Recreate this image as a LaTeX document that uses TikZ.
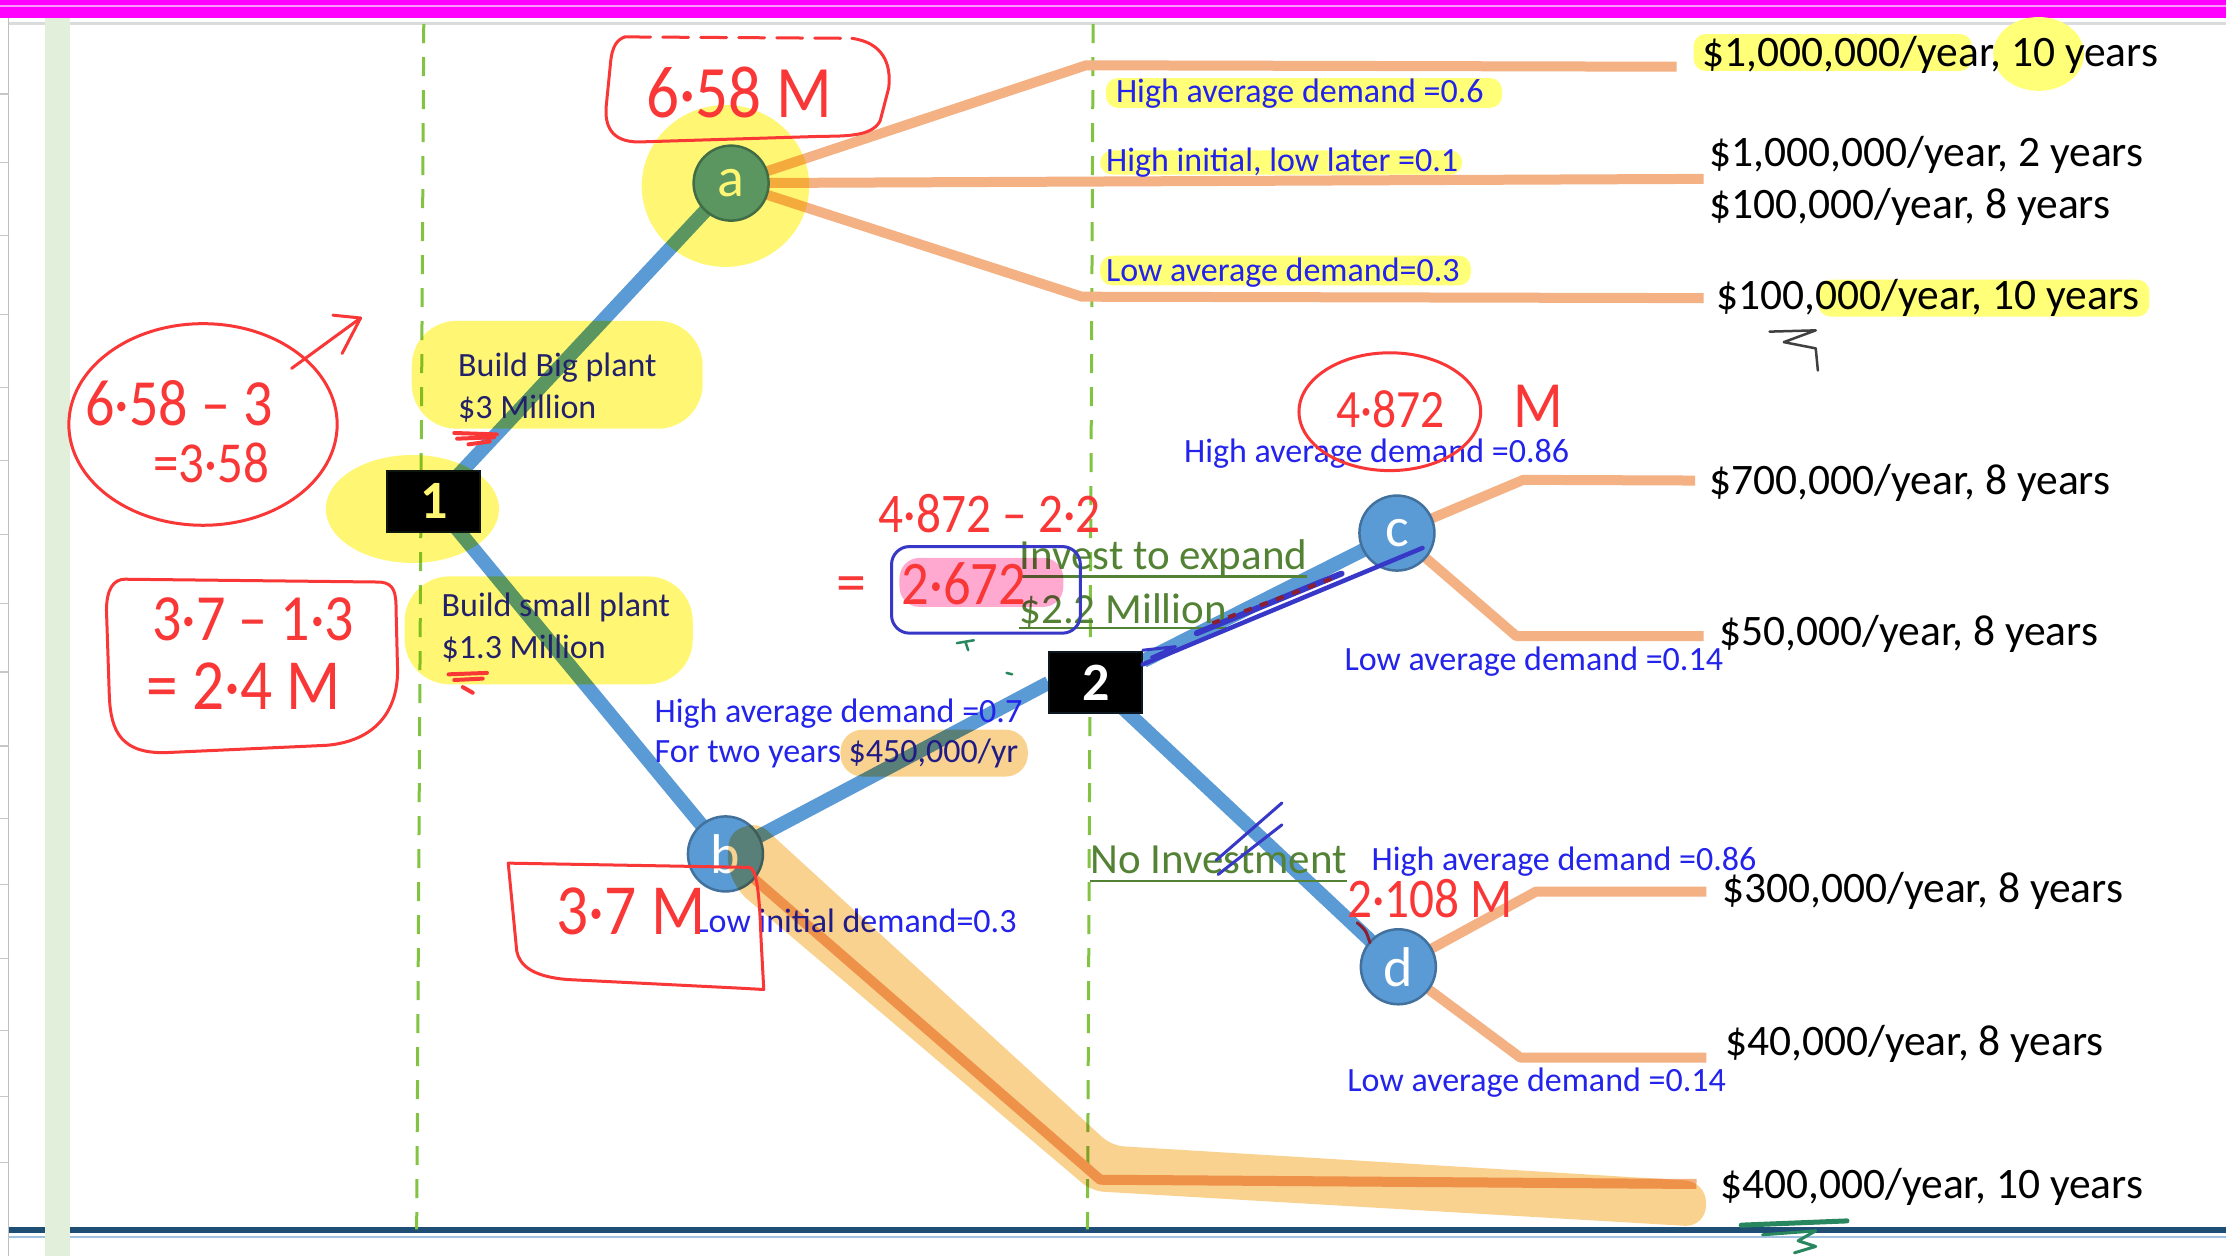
\documentclass[tikz,border=0pt]{standalone}
\usepackage{fontspec}
\setmainfont{Carlito}
\pgfdeclarelayer{back}
\pgfdeclarelayer{edges}
\pgfsetlayers{back,edges,main}
\definecolor{nodeblue}{RGB}{91,155,213}
\definecolor{nodeedge}{RGB}{65,113,156}
\definecolor{branchc}{RGB}{244,177,131}
\definecolor{lblue}{RGB}{35,35,235}
\definecolor{lgreen}{RGB}{84,130,53}
\definecolor{dashgreen}{RGB}{130,195,65}
\definecolor{pen}{RGB}{250,55,55}
\definecolor{bpen}{RGB}{55,55,200}
\definecolor{hlyellow}{RGB}{255,255,120}
\definecolor{mag}{RGB}{255,0,255}
\definecolor{magline}{RGB}{255,150,255}
\definecolor{barteal}{RGB}{30,78,115}
\definecolor{lightbar}{RGB}{160,195,225}
\definecolor{greenbar}{RGB}{226,239,218}
\definecolor{hlorange}{RGB}{245,166,35}
\definecolor{hlpink}{RGB}{255,100,170}
\definecolor{gpen}{RGB}{40,135,95}
\definecolor{mpen}{RGB}{140,30,50}
\newcommand\fsz[1]{\fontsize{#1}{#1}\selectfont}
\newcommand\narrowtxt[1]{\scalebox{0.88}[1]{#1}}
\begin{document}
\begin{tikzpicture}[x=1.4196pt,y=-1.4196pt,
  chance/.style={circle,fill=nodeblue,draw=nodeedge,line width=2.5pt,minimum size=75pt,inner sep=0pt,text=white,font=\fsz{56}},
  decision/.style={fill=black,draw=black!80!nodeedge,line width=2pt,minimum width=93pt,minimum height=61pt,inner sep=0pt,text=white,font=\bfseries\fsz{54}},
  blueedge/.style={draw=nodeblue,line width=14pt},
  branchline/.style={draw=branchc,line width=10pt,line join=round},
  probtext/.style={anchor=base west,inner sep=0pt,text=lblue,font=\fsz{34}},
  valtext/.style={anchor=base west,inner sep=0pt,text=black,font=\fsz{43.5}},
  acttext/.style={anchor=base west,inner sep=0pt,text=lgreen,font=\fsz{43}},
  handtext/.style={anchor=base west,inner sep=0pt,text=pen},
  pencil/.style={draw=pen,line width=3pt,line cap=round,line join=round},
  bpencil/.style={draw=bpen,line width=3pt,line cap=round,line join=round},
  labelhl/.style={fill=hlyellow,rounded corners=12pt},
  penhl/.style={fill=yellow,fill opacity=0.55,blend mode=multiply},
  penorange/.style={fill=hlorange,fill opacity=0.5,blend mode=multiply},
  penpink/.style={fill=hlpink,fill opacity=0.55,blend mode=multiply},
  uline/.style={draw=lgreen,line width=2.5pt}
]
\useasboundingbox (0,0) rectangle (1568,885);
\begin{pgfonlayer}{back}
\fill[white] (0,0) rectangle (1568,885);
\draw[black!14,line width=3pt] (6,16.6) -- (1568,16.6);
\draw[black!25,line width=1.6pt] (6,0) -- (6,885);
\foreach \yy in {66.3,114.3,165.9,221.5,273.1,324.5,376.6,425,473.4,525.6,576.4,622.9,675.1,725.9,772.5,819}
  \draw[black!22,line width=1.4pt] (0,\yy) -- (6,\yy);
\fill[barteal] (6,864) rectangle (1568,868.6);
\draw[lightbar,line width=1.5pt] (6,871.3) -- (1568,871.3);
\fill[greenbar] (31.5,0) rectangle (49.5,885);
\fill[mag] (0,0) rectangle (1568,12.7);
\draw[magline,line width=1.2pt] (0,4.2) -- (1568,4.2);
\draw[dashgreen,line width=3pt,dash pattern=on 19pt off 14pt] (298.5,17) -- (293.5,866);
\draw[dashgreen,line width=3pt,dash pattern=on 19pt off 14pt] (770,17) -- (766,866);
\fill[labelhl] (779,55) rectangle (1058,76);
\fill[labelhl] (775,106) rectangle (1030,123);
\fill[labelhl] (775,180) rectangle (1036,201);
\fill[labelhl] (1193,24) rectangle (1389,50);
\fill[hlyellow] (1436,38) ellipse [x radius=32,y radius=26];
\fill[labelhl] (1281,197) rectangle (1514,223);
\end{pgfonlayer}

% nodes
\node[decision] (n1) at (305.7,353) {1};
\node[decision] (n2) at (772,481) {2};
\node[chance] (a) at (515,129) {a};
\node[chance] (b) at (511,601.5) {b};
\node[chance] (c) at (984,375.5) {c};
\node[chance] (d) at (985,681) {d};

% branch corner / end points
\coordinate (a1) at (765,46);   \coordinate (a1e) at (1181,47);
\coordinate (a2e) at (1200,126);
\coordinate (a3) at (762,209);  \coordinate (a3e) at (1200,210);
\coordinate (c1) at (1073,338); \coordinate (c1e) at (1194,338.5);
\coordinate (c2) at (1068,448); \coordinate (c2e) at (1200,448);
\coordinate (d1) at (1082,628); \coordinate (d1e) at (1202,628);
\coordinate (d2) at (1071,745); \coordinate (d2e) at (1202,745);
\coordinate (b1) at (775,831);  \coordinate (b1e) at (1195,834);

\begin{pgfonlayer}{edges}
\draw[branchline] (a.center) -- (a1) -- (a1e);
\draw[branchline] (a.center) -- (a2e);
\draw[branchline] (a.center) -- (a3) -- (a3e);
\draw[branchline] (c.center) -- (c1) -- (c1e);
\draw[branchline] (c.center) -- (c2) -- (c2e);
\draw[branchline] (d.center) -- (d1) -- (d1e);
\draw[branchline] (d.center) -- (d2) -- (d2e);
\draw[branchline] (b.center) -- (b1) -- (b1e);
\draw[blueedge] (n1.center) -- (a.center);
\draw[blueedge] (n1.center) -- (b.center);
\draw[blueedge] (b.center) -- (n2.west);
\draw[blueedge] ([yshift=22pt]n2.east) -- (c.center);
\draw[blueedge] (n2.center) -- (d.center);
\end{pgfonlayer}

% probability labels
\node[probtext] (p1) at (786,72) {High average demand =0.6};
\node[probtext] (p2) at (779,121) {High initial, low later =0.1};
\node[probtext] (p3) at (779,198.3) {Low average demand=0.3};
\node[probtext] (p4) at (834,326) {High average demand =0.86};
\node[probtext] (p5) at (947,472) {Low average demand =0.14};
\node[probtext] (p6) at (461,508.6) {High average demand =0.7};
\node[probtext] (p7) at (461,537) {For two years \$450,000/yr};
\node[probtext] (p8) at (489,656.5) {Low initial demand=0.3};
\node[probtext] (p9) at (966,613) {High average demand =0.86};
\node[probtext] (p10) at (949,769) {Low average demand =0.14};
\node[probtext] (bb1) at (322.6,265) {Build Big plant};
\node[probtext] (bb2) at (322.6,295) {\$3 Million};
\node[probtext] (bs1) at (311,434.6) {Build small plant};
\node[probtext] (bs2) at (311,464) {\$1.3 Million};

% action labels
\node[acttext] (inv) at (718,401.5) {Invest to expand};
\node[acttext] (inv2) at (718,439) {\$2.2 Million};
\node[acttext] (noinv) at (768,615) {No Investment};
\draw[uline] ([yshift=-6.4pt]inv.base west) -- ([yshift=-6.4pt]inv.base east);
\draw[uline] ([yshift=-5pt]inv2.base west) -- ([yshift=-5pt]inv2.base east);
\draw[uline] ([yshift=-8pt]noinv.base west) -- ([yshift=-8pt]noinv.base east);

% payoff values
\node[valtext] (v1) at (1199,46.5) {\$1,000,000/year, 10 years};
\node[valtext] (v2) at (1204,117) {\$1,000,000/year, 2 years};
\node[valtext] (v3) at (1204,154) {\$100,000/year, 8 years};
\node[valtext] (v4) at (1209,218) {\$100,000/year, 10 years};
\node[valtext] (v5) at (1204,348.5) {\$700,000/year, 8 years};
\node[valtext] (v6) at (1211,455) {\$50,000/year, 8 years};
\node[valtext] (v7) at (1213,635.5) {\$300,000/year, 8 years};
\node[valtext] (v8) at (1215,743.7) {\$40,000/year, 8 years};
\node[valtext] (v9) at (1211.6,844) {\$400,000/year, 10 years};

% highlighter pen (multiply)
\fill[penhl] (511,131) ellipse [x radius=59,y radius=57];
\fill[penhl] (290.5,358.5) ellipse [x radius=61,y radius=38];
\fill[penhl,rounded corners=45pt] (290,226) rectangle (495,302);
\fill[penhl,rounded corners=45pt] (285,406) rectangle (488,482);
\fill[penorange,rounded corners=22pt] (592,514) rectangle (724,547);
\fill[penorange,rounded corners=12pt] (514,586) -- (534,579) -- (548,592) -- (783,807) -- (1196,832) -- (1204,848) -- (1196,864) -- (769,839) -- (520,628) -- (512,610) -- cycle;
\fill[penpink,rounded corners=20pt] (633.6,393) rectangle (749,427.5);

% handwritten red notes
\draw[pencil,dash pattern=on 26pt off 12pt] (440,26) -- (600,27);
\draw[pencil] (600,27) .. controls (622,30) and (628,45) .. (626,62) -- (620,85) .. controls (615,95) and (600,96) .. (580,96) -- (450,100) .. controls (430,100) and (426,88) .. (427,75) -- (430,45) .. controls (431,32) and (435,28) .. (440,26);
\node[handtext,font=\fsz{74}] (h1) at (455,83) {\narrowtxt{6·58 M}};

\draw[pencil] (143,299) ellipse [x radius=94.5,y radius=71];
\node[handtext,font=\fsz{66}] (h2) at (60,300) {\narrowtxt{6·58 – 3}};
\node[handtext,font=\fsz{58}] (h3) at (108,340) {\narrowtxt{=3·58}};
\draw[pencil] (205.4,259.5) -- (254,224);
\draw[pencil] (234.5,222) -- (254,224) -- (241,249);

\draw[pencil] (88,408) -- (268,410) .. controls (278,411) and (279,418) .. (279,430) -- (280,470) .. controls (281,500) and (265,522) .. (230,525) -- (120,530) .. controls (85,532) and (78,515) .. (77,490) -- (75,430) .. controls (75,415) and (80,408) .. (88,408) -- cycle;
\node[handtext,font=\fsz{66}] (h4) at (107,451) {\narrowtxt{3·7 – 1·3}};
\node[handtext,font=\fsz{72}] (h5) at (103,500) {\narrowtxt{= 2·4 M}};

\draw[pencil] (358,608) -- (528,611) .. controls (533,612) and (535,630) .. (536,660) -- (538,697) -- (520,696) -- (400,690) .. controls (375,688) and (366,680) .. (364,670) -- cycle;
\node[handtext,font=\fsz{72}] (h6) at (392,658) {\narrowtxt{3·7 M}};

\node[handtext,font=\fsz{56}] (h7) at (619,375) {\narrowtxt{4·872 – 2·2}};
\node[handtext,font=\fsz{60},anchor=center] (h8) at (600,415) {=};
\draw[bpencil,rounded corners=18pt] (628,385) rectangle (761,446);
\node[handtext,font=\fsz{62}] (h9) at (635,426) {\narrowtxt{2·672}};

\draw[pencil] (979,290) ellipse [x radius=64,y radius=41.5];
\node[handtext,font=\fsz{54}] (h10) at (941,301) {\narrowtxt{4·872}};
\node[handtext,font=\fsz{66}] (h11) at (1066,301) {\narrowtxt{M}};
\node[handtext,font=\fsz{56}] (h12) at (949,646) {\narrowtxt{2·108 M}};

\draw[pencil,line width=4pt] (320,305) -- (350,306) (322,309) -- (348,308) (330,313) -- (345,311);
\draw[pencil,line width=4pt] (316,475) -- (343,474) (320,479) -- (340,478) (326,484) -- (333,488);

% blue pen strokes
\draw[bpencil,line width=4.5pt] (805,468) -- (1002,386);
\draw[bpencil,line width=6pt] (843,446) -- (945,404);
\draw[bpencil] (805,458) -- (828,455.5) -- (811,463);
\draw[draw=mpen,line width=4pt,dash pattern=on 8pt off 9pt] (854,439) -- (941,406.5);
\draw[bpencil] (856.6,606) -- (903,565.6);
\draw[bpencil] (858,616) -- (903,581);
\draw[draw=mpen,line width=3pt,line cap=round] (956,650) .. controls (962,655) .. (965,664);

% other marks
\draw[black!75,line width=2.5pt,line cap=round,line join=round] (1246.5,233.6) -- (1279,232.7) -- (1256.5,241) -- (1279,245.4) -- (1280.5,261);
\draw[gpen,line width=5pt,line cap=round] (1226.5,863) -- (1301,860);
\draw[gpen,line width=3pt,line cap=round,line join=round] (1241.5,869.8) -- (1279,867) -- (1266.6,874) -- (1279,878) -- (1264,882.5);
\draw[gpen,line width=2.5pt,line cap=round] (674,453) -- (686,451) (680,452) -- (682,458) (709,474) -- (713,475);
\end{tikzpicture}
\end{document}
